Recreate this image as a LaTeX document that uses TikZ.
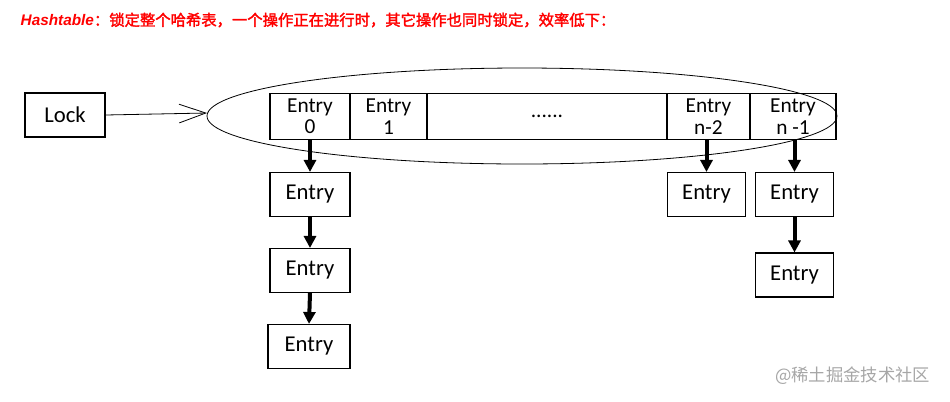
\documentclass[tikz,border=0pt]{standalone}
\usepackage{fontspec}
\setmainfont{Carlito}
\newfontfamily\cjk[AutoFakeSlant=0.2,AutoFakeBold=2]{Noto Sans CJK SC}
\newfontfamily\cjkplain{Noto Sans CJK SC}
\newfontfamily\latin{Liberation Sans}
\usetikzlibrary{arrows.meta}
\begin{document}
\begin{tikzpicture}[x=0.75pt,y=-0.75pt,
  box/.style={draw,line width=0.8pt,minimum width=60pt,minimum height=33pt,inner sep=0pt,font=\fontsize{17}{16}\selectfont,align=center},
  cell/.style={draw,line width=0.8pt,minimum height=35pt,inner sep=0pt,font=\fontsize{16}{16}\selectfont,align=center},
  thick arr/.style={line width=3pt,-{Triangle[length=9pt,width=9pt]}}]
\useasboundingbox (0,0) rectangle (950,401);
\node[anchor=west,text=red,font=\bfseries\fontsize{11.5}{13}\selectfont] (title) at (16,20) {{\latin\itshape Hashtable}{\cjk：锁定整个哈希表，一个操作正在进行时，其它操作也同时锁定，效率低下：}};
\node[box] (lock) at (65,115) {Lock};
\draw[line width=0.6pt] (522,116) ellipse [x radius=315,y radius=48];
\coordinate (ell) at (207,113);
\draw[line width=0.6pt,-{Straight Barb[length=20pt,width=14pt]}] (lock.east) -- (ell);
\node[cell,minimum width=60pt] (e0) at (310,116.5) {Entry\\0};
\node[cell,minimum width=57.75pt] (e1) at (388.5,116.5) {Entry\\1};
\node[cell,minimum width=180pt] (dots) at (547,116.5) {......};
\node[cell,minimum width=62.25pt] (en2) at (708.5,116.5) {Entry\\n-2};
\node[cell,minimum width=64.5pt] (en1) at (793,116.5) {Entry\\n -1};
\node[box] (a1) at (310,194.5) {Entry};
\node[box] (a2) at (310,270.5) {Entry};
\node[box,minimum width=61.5pt] (a3) at (309,346.5) {Entry};
\node[box,minimum width=59pt] (b1) at (706.5,194.5) {Entry};
\node[box,minimum width=59pt] (c1) at (794.5,194.5) {Entry};
\node[box,minimum width=59pt] (c2) at (794.5,275) {Entry};
\draw[thick arr] (e0.south) -- (a1.north);
\draw[thick arr] (a1.south) -- (a2.north);
\draw[thick arr] (a2.south) -- (a3.north);
\draw[thick arr] (en2.south -| b1) -- (b1.north);
\draw[thick arr] (en1.south -| c1) -- (c1.north);
\draw[thick arr] (c1.south) -- (c2.north);
\node[anchor=east,text=black!35,font=\cjkplain\fontsize{13}{13}\selectfont] (wm) at (935,376) {@稀土掘金技术社区};
\end{tikzpicture}
\end{document}
